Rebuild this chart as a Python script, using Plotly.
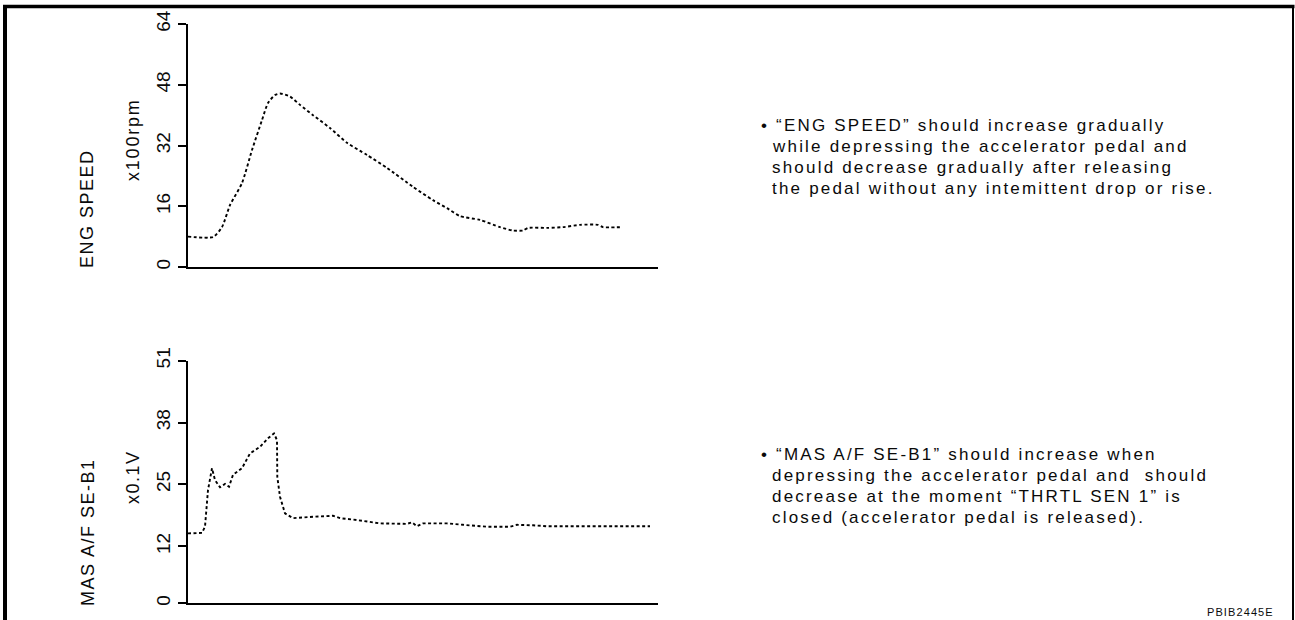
import plotly.graph_objects as go

W, H = 1295, 620

# ---------------- data ----------------
eng_t = [0, 2.5, 3.4, 4.2, 5.4, 6.4, 7.4, 8.0, 8.7, 9.2, 10.2, 11.2, 12.5, 14.2, 15.9,
         17.9, 19.9, 22.5, 24.5, 25.9, 27.2, 29.2, 31.2, 32.5, 33.5, 34.0, 35.9, 37.5,
         39.2, 41.0, 41.5, 43.4]
eng_v = [8.0, 7.9, 10.5, 16.3, 22.1, 30.8, 38.7, 43.2, 45.3, 45.7, 44.9, 42.7, 40.0, 36.6,
         32.7, 29.5, 26.1, 21.1, 17.6, 15.5, 13.4, 12.4, 10.5, 9.6, 9.6, 10.3, 10.3, 10.5,
         11.1, 11.1, 10.5, 10.5]

maf_t = [0, 1.4, 1.7, 2.0, 2.4, 2.7, 3.2, 3.7, 4.1, 4.5, 5.4, 6.2, 7.2, 8.0, 8.6, 8.9,
         8.93, 9.2, 9.7, 10.5, 12.5, 14.5, 15.2, 16.9, 19.2, 21.9, 22.4, 22.9, 23.5, 25.9,
         27.5, 29.9, 32.2, 32.9, 34.5, 35.9, 46.2]
maf_v = [14.7, 14.8, 16.1, 23.8, 28.4, 25.9, 24.4, 25.1, 24.5, 27.0, 28.4, 31.5, 32.9,
         34.7, 35.7, 34.3, 26.6, 22.4, 18.9, 17.9, 18.2, 18.4, 17.9, 17.5, 16.8, 16.7, 17.0,
         16.2, 16.8, 16.8, 16.5, 16.1, 16.1, 16.5, 16.4, 16.2, 16.2]

eng_ticks = [0, 16, 32, 48, 64]
maf_ticks = [0, 12, 25, 38, 51]

eng_title = "ENG SPEED"
eng_unit = "x100rpm"
maf_title = "MAS A/F SE-B1"
maf_unit = "x0.1V"

eng_notes = [
    "• “ENG SPEED” should increase gradually",
    "while depressing the accelerator pedal and",
    "should decrease gradually after releasing",
    "the pedal without any intemittent drop or rise.",
]
maf_notes = [
    "• “MAS A/F SE-B1” should increase when",
    "depressing the accelerator pedal and  should",
    "decrease at the moment “THRTL SEN 1” is",
    "closed (accelerator pedal is released).",
]
code_label = "PBIB2445E"

# ---------------- helpers ----------------
def px(x):
    return x / W


def py(y):
    return 1 - y / H


def spaced(text, ls):
    return '<span style="letter-spacing:%spx">%s</span>' % (ls, text)


FONT = "Liberation Sans, Arial, sans-serif"
INK = "#0a0a0a"

fig = go.Figure()
line_style = dict(color="black", width=1.9, dash="3px,2.5px")
fig.add_trace(go.Scatter(x=eng_t, y=eng_v, mode="lines", line=dict(line_style, shape="spline", smoothing=0.6),
                         xaxis="x", yaxis="y", hoverinfo="skip"))
fig.add_trace(go.Scatter(x=maf_t, y=maf_v, mode="lines", line=line_style,
                         xaxis="x2", yaxis="y2", hoverinfo="skip"))

x_dom = [px(188), px(658)]
common_x = dict(range=[0, 47], showline=True, linecolor="black", linewidth=2,
                showticklabels=False, ticks="", showgrid=False, zeroline=False,
                fixedrange=True, automargin=False)
common_y = dict(showline=True, linecolor="black", linewidth=2, ticks="outside", ticklen=8,
                tickwidth=2, tickcolor="black", tickangle=-90, showgrid=False, zeroline=False,
                tickfont=dict(family=FONT, size=19, color=INK), fixedrange=True, automargin=False)

annotations = []


def ann(text, x, y, size, angle=0, xanchor="center", yanchor="middle"):
    annotations.append(dict(text=text, x=px(x), y=py(y), xref="paper", yref="paper",
                            showarrow=False, textangle=angle, xanchor=xanchor, yanchor=yanchor,
                            font=dict(family=FONT, size=size, color=INK)))


ann(spaced(eng_title, 1.5), 87, 209, 18, -90)
ann(spaced(eng_unit, 1.8), 133, 140, 18, -90)
ann(spaced(maf_title, 1.5), 88, 532, 18, -90)
ann(spaced(maf_unit, 1.5), 133, 477, 18, -90)

for i, t in enumerate(eng_notes):
    ann(spaced(t, 2.2), 759 if i == 0 else 770, 125 + 21.2 * i, 17, xanchor="left")
for i, t in enumerate(maf_notes):
    ann(spaced(t, 2.2), 759 if i == 0 else 770, 454 + 21.2 * i, 17, xanchor="left")
ann(spaced(code_label, 1.1), 1205, 612, 11, xanchor="left")

shapes = [
    dict(type="line", xref="paper", yref="paper", x0=px(3), x1=px(1294.5), y0=py(6.5), y1=py(6.5),
         line=dict(color="black", width=3.5)),
    dict(type="line", xref="paper", yref="paper", x0=px(5), x1=px(5), y0=0, y1=py(5),
         line=dict(color="black", width=4)),
    dict(type="line", xref="paper", yref="paper", x0=px(1293), x1=px(1293), y0=0, y1=py(5),
         line=dict(color="black", width=2)),
]

fig.update_layout(
    width=W, height=H, margin=dict(l=0, r=0, t=0, b=0, autoexpand=False),
    paper_bgcolor="white", plot_bgcolor="white", showlegend=False,
    xaxis=dict(common_x, domain=x_dom, anchor="y"),
    yaxis=dict(common_y, domain=[py(267), py(24)], range=[0, 64], tickvals=eng_ticks, anchor="x"),
    xaxis2=dict(common_x, domain=x_dom, anchor="y2"),
    yaxis2=dict(common_y, domain=[py(603.3), py(360.7)], range=[0, 51], tickvals=maf_ticks, anchor="x2"),
    annotations=annotations, shapes=shapes,
)

fig.write_html("out.html", config={"displayModeBar": False},
               post_script="document.body.style.margin='0';document.body.style.overflow='hidden';")
